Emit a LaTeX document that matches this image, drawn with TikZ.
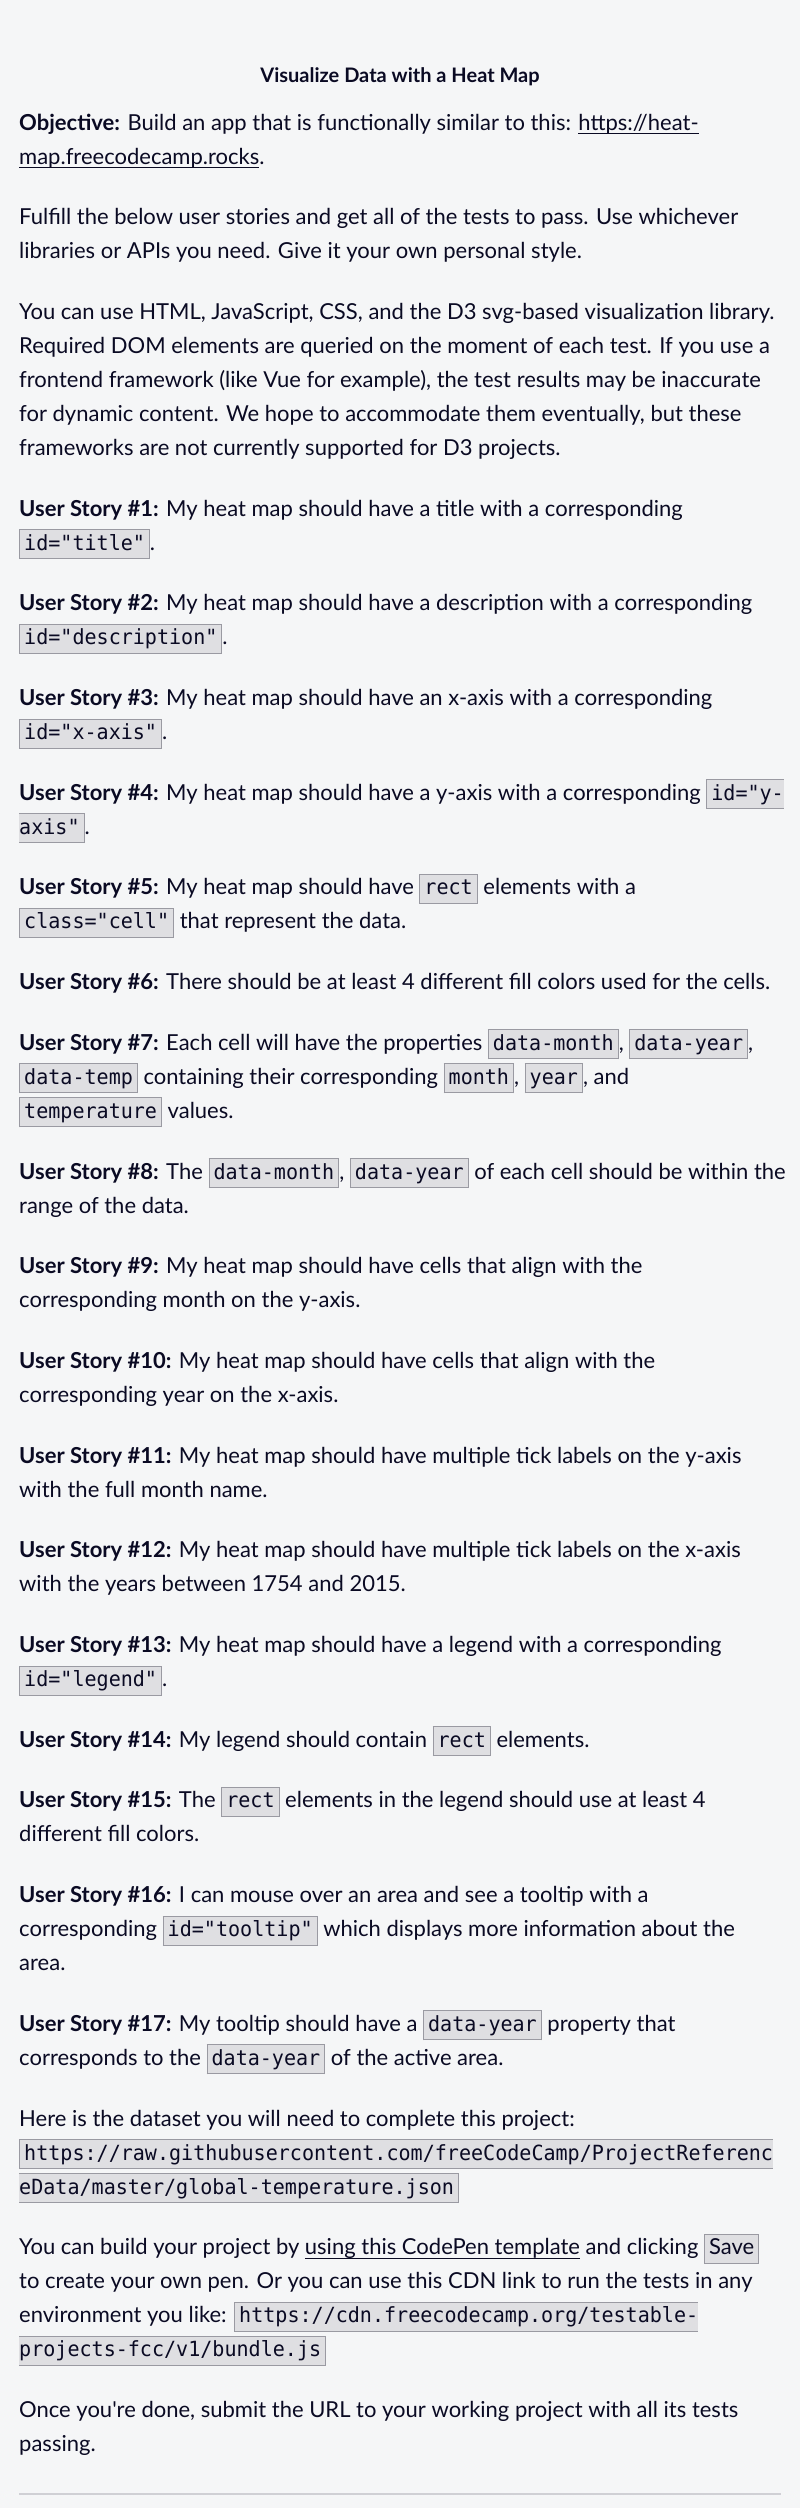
\documentclass[tikz,border=0pt]{standalone}
\usepackage{fontspec}
\setmainfont{Lato}[Ligatures=TeXOff]
\newfontfamily\mono{DejaVu Sans Mono}[FakeStretch=0.96,Scale=0.95]
\usepackage{tikz}
\usetikzlibrary{positioning}

\definecolor{pagebg}{HTML}{F5F6F7}
\definecolor{ink}{HTML}{0A0A23}
\definecolor{codebg}{HTML}{DFDFE2}
\definecolor{codeline}{HTML}{9A9AA2}
\definecolor{rulecol}{HTML}{D0D0D5}

\lineskiplimit=-100pt
\newlength\cpad \setlength\cpad{5pt}
\newsavebox\cbx
% inline code box: font, left side, right side, text
\newcommand\codebox[4]{%
  \sbox\cbx{#1\hspace*{#2\cpad}#4\hspace*{#3\cpad}}%
  \leavevmode
  \rlap{\color{codebg}\rule[-8pt]{\wd\cbx}{28pt}}%
  \rlap{\color{codeline}\rule[-9pt]{\wd\cbx}{1pt}}%
  \rlap{\color{codeline}\rule[20pt]{\wd\cbx}{1pt}}%
  \rlap{\color{codeline}\rule[-9pt]{#2pt}{30pt}}%
  \rlap{\hspace*{\wd\cbx}\llap{\color{codeline}\rule[-9pt]{#3pt}{30pt}}}%
  \usebox\cbx}
\newcommand\code[1]{\codebox{\mono}{1}{1}{#1}}
\newcommand\codeopen[1]{\codebox{\mono}{1}{0}{#1}}
\newcommand\codeclose[1]{\codebox{\mono}{0}{1}{#1}}
\newcommand\keybox[1]{\codebox{}{1}{1}{#1}}
\newcommand\link[1]{\sbox\cbx{#1}\leavevmode\rlap{\rule[-4pt]{\wd\cbx}{1pt}}\usebox\cbx}
\newcommand\story[1]{\textbf{User Story \##1:}}
\newcommand\linegap{34pt}
\newcommand\paragap{60.7pt}

\begin{document}
\begin{tikzpicture}[
  x=1pt, y=-1pt,
  txt/.style={anchor=base west, inner sep=0pt, text=ink, font=\fontsize{22}{34}\selectfont}
]

% Page
\useasboundingbox (0,0) rectangle (800,2508);
\fill[pagebg] (0,0) rectangle (800,2508);

% Title
\node[anchor=base, text=ink, font=\fontsize{20}{24}\selectfont\bfseries] (title) at (400,82) {Visualize Data with a Heat Map};

% Introduction
\node[txt] (obj1) at (19,130) {\textbf{Objective:} Build an app that is functionally similar to this: \link{https://heat-}};
\node[below=\linegap of obj1.base west, txt] (obj2) {\link{map.freecodecamp.rocks}.};

\node[below=\paragap of obj2.base west, txt] (ful1) {Fulfill the below user stories and get all of the tests to pass. Use whichever};
\node[below=\linegap of ful1.base west, txt] (ful2) {libraries or APIs you need. Give it your own personal style.};

\node[below=\paragap of ful2.base west, txt] (use1) {You can use HTML, JavaScript, CSS, and the D3 svg-based visualization library.};
\node[below=\linegap of use1.base west, txt] (use2) {Required DOM elements are queried on the moment of each test. If you use a};
\node[below=\linegap of use2.base west, txt] (use3) {frontend framework (like Vue for example), the test results may be inaccurate};
\node[below=\linegap of use3.base west, txt] (use4) {for dynamic content. We hope to accommodate them eventually, but these};
\node[below=\linegap of use4.base west, txt] (use5) {frameworks are not currently supported for D3 projects.};

% User stories
\node[below=\paragap of use5.base west, txt] (us1a) {\story{1} My heat map should have a title with a corresponding};
\node[below=\linegap of us1a.base west, txt] (us1b) {\code{id="title"}.};

\node[below=\paragap of us1b.base west, txt] (us2a) {\story{2} My heat map should have a description with a corresponding};
\node[below=\linegap of us2a.base west, txt] (us2b) {\code{id="description"}.};

\node[below=\paragap of us2b.base west, txt] (us3a) {\story{3} My heat map should have an x-axis with a corresponding};
\node[below=\linegap of us3a.base west, txt] (us3b) {\code{id="x-axis"}.};

\node[below=\paragap of us3b.base west, txt] (us4a) {\story{4} My heat map should have a y-axis with a corresponding \codeopen{id="y-}};
\node[below=\linegap of us4a.base west, txt] (us4b) {\codeclose{axis"}.};

\node[below=\paragap of us4b.base west, txt] (us5a) {\story{5} My heat map should have \code{rect} elements with a};
\node[below=\linegap of us5a.base west, txt] (us5b) {\code{class="cell"} that represent the data.};

\node[below=\paragap of us5b.base west, txt] (us6a) {\story{6} There should be at least 4 different fill colors used for the cells.};

\node[below=\paragap of us6a.base west, txt] (us7a) {\story{7} Each cell will have the properties \code{data-month}, \code{data-year},};
\node[below=\linegap of us7a.base west, txt] (us7b) {\code{data-temp} containing their corresponding \code{month}, \code{year}, and};
\node[below=\linegap of us7b.base west, txt] (us7c) {\code{temperature} values.};

\node[below=\paragap of us7c.base west, txt] (us8a) {\story{8} The \code{data-month}, \code{data-year} of each cell should be within the};
\node[below=\linegap of us8a.base west, txt] (us8b) {range of the data.};

\node[below=\paragap of us8b.base west, txt] (us9a) {\story{9} My heat map should have cells that align with the};
\node[below=\linegap of us9a.base west, txt] (us9b) {corresponding month on the y-axis.};

\node[below=\paragap of us9b.base west, txt] (us10a) {\story{10} My heat map should have cells that align with the};
\node[below=\linegap of us10a.base west, txt] (us10b) {corresponding year on the x-axis.};

\node[below=\paragap of us10b.base west, txt] (us11a) {\story{11} My heat map should have multiple tick labels on the y-axis};
\node[below=\linegap of us11a.base west, txt] (us11b) {with the full month name.};

\node[below=\paragap of us11b.base west, txt] (us12a) {\story{12} My heat map should have multiple tick labels on the x-axis};
\node[below=\linegap of us12a.base west, txt] (us12b) {with the years between 1754 and 2015.};

\node[below=\paragap of us12b.base west, txt] (us13a) {\story{13} My heat map should have a legend with a corresponding};
\node[below=\linegap of us13a.base west, txt] (us13b) {\code{id="legend"}.};

\node[below=\paragap of us13b.base west, txt] (us14a) {\story{14} My legend should contain \code{rect} elements.};

\node[below=\paragap of us14a.base west, txt] (us15a) {\story{15} The \code{rect} elements in the legend should use at least 4};
\node[below=\linegap of us15a.base west, txt] (us15b) {different fill colors.};

\node[below=\paragap of us15b.base west, txt] (us16a) {\story{16} I can mouse over an area and see a tooltip with a};
\node[below=\linegap of us16a.base west, txt] (us16b) {corresponding \code{id="tooltip"} which displays more information about the};
\node[below=\linegap of us16b.base west, txt] (us16c) {area.};

\node[below=\paragap of us16c.base west, txt] (us17a) {\story{17} My tooltip should have a \code{data-year} property that};
\node[below=\linegap of us17a.base west, txt] (us17b) {corresponds to the \code{data-year} of the active area.};

% Closing notes
\node[below=\paragap of us17b.base west, txt] (data1) {Here is the dataset you will need to complete this project:};
\node[below=\linegap of data1.base west, txt] (data2) {\codeopen{https://raw.githubusercontent.com/freeCodeCamp/ProjectReferenc}};
\node[below=\linegap of data2.base west, txt] (data3) {\codeclose{eData/master/global-temperature.json}};

\node[below=\paragap of data3.base west, txt] (pen1) {You can build your project by \link{using this CodePen template} and clicking \keybox{Save}};
\node[below=\linegap of pen1.base west, txt] (pen2) {to create your own pen. Or you can use this CDN link to run the tests in any};
\node[below=\linegap of pen2.base west, txt] (pen3) {environment you like: \codeopen{https://cdn.freecodecamp.org/testable-}};
\node[below=\linegap of pen3.base west, txt] (pen4) {\codeclose{projects-fcc/v1/bundle.js}};

\node[below=\paragap of pen4.base west, txt] (done1) {Once you're done, submit the URL to your working project with all its tests};
\node[below=\linegap of done1.base west, txt] (done2) {passing.};

% Rule
\draw[rulecol, line width=1.5pt] (19,2494) -- (781,2494);

\end{tikzpicture}
\end{document}
